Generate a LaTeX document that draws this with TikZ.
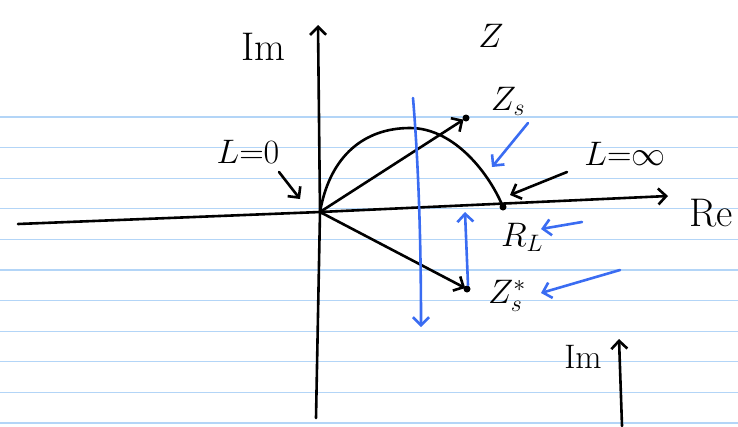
\RequirePackage{fix-cm}
\documentclass[tikz,border=0pt]{standalone}
\usepackage{tikz}
\usetikzlibrary{arrows.meta,positioning}
\definecolor{pen}{HTML}{3A6CF2}
\definecolor{ruling}{HTML}{B3D5F7}
\tikzset{ink/.style={line width=2.6pt,line cap=round,line join=round},
  blu/.style={ink,draw=pen},
  arr/.style={-{Straight Barb[length=8pt,width=16pt]}},
  lab/.style={font=\fontsize{34}{40}\selectfont,inner sep=0pt},
  biglab/.style={lab,font=\fontsize{40}{46}\selectfont},
  dot/.style={circle,fill,inner sep=0pt,minimum size=7pt}}
\begin{document}
\begin{tikzpicture}[x=1pt,y=-1pt]
\useasboundingbox (0,0) rectangle (738,426);
% ruled paper
\foreach \i in {0,...,10}
  \draw[ruling,line width=1.2pt] (0,{117+30.6*\i}) -- (738,{117+30.6*\i});
% points
\coordinate (O) at (320,212);
\node[dot] (zs) at (466,118) {};
\node[dot] (zsc) at (467,289) {};
\node[dot] (rl) at (503,207) {};
\coordinate (reL) at (18,224);
\coordinate (reR) at (668,196);
\coordinate (imB) at (316,418);
\coordinate (imT) at (318,25);
% labels
\node[biglab] (im) at (263,47) {Im};
\node[lab] (z) at (491,36) {$Z$};
\node[lab] (zsl) at (508,101) {$Z_s$};
\node[lab] (l0) at (248,152) {$L{=}0$};
\node[lab] (linf) at (625,154) {$L{=}\infty$};
\node[biglab] (re) at (711,213) {Re};
\node[lab] (rll) at (522,237) {$R_L$};
\node[lab] (zscl) at (507,296) {$Z_s^*$};
\node[lab] (im2) at (583,357) {Im};
% axes
\draw[ink,arr] (reL) -- (O) -- (reR);
\draw[ink,arr] (imB) -- (O) -- (imT);
\draw[ink,arr] (622,426) coordinate (imB2) -- (619,339) coordinate (imT2);
% locus and vectors
\draw[ink] (O) .. controls (330,155) and (365,128) .. (410,128) .. controls (455,128) and (490,175) .. (rl.center);
\draw[ink,arr,shorten >=3pt] (O) -- (zs.center);
\draw[ink,arr,shorten >=2pt] (O) -- (zsc.center);
\draw[ink,arr] (279,172) coordinate (a0) -- (300,199) coordinate (b0);
\draw[ink,arr] (567,172) coordinate (a1) -- (510,195) coordinate (b1);
% blue marks
\draw[blu,arr] (413,98) coordinate (v1) .. controls (419,170) and (421,250) .. (421,327) coordinate (v2);
\draw[blu,arr] (468,285) coordinate (u1) -- (465,212) coordinate (u2);
\draw[blu,arr] (528,123) coordinate (w1) -- (492,167) coordinate (w2);
\draw[blu,arr] (582,222) coordinate (s1) -- (541,229) coordinate (s2);
\draw[blu,arr] (620,270) coordinate (t1) -- (541,293) coordinate (t2);
\end{tikzpicture}
\end{document}
